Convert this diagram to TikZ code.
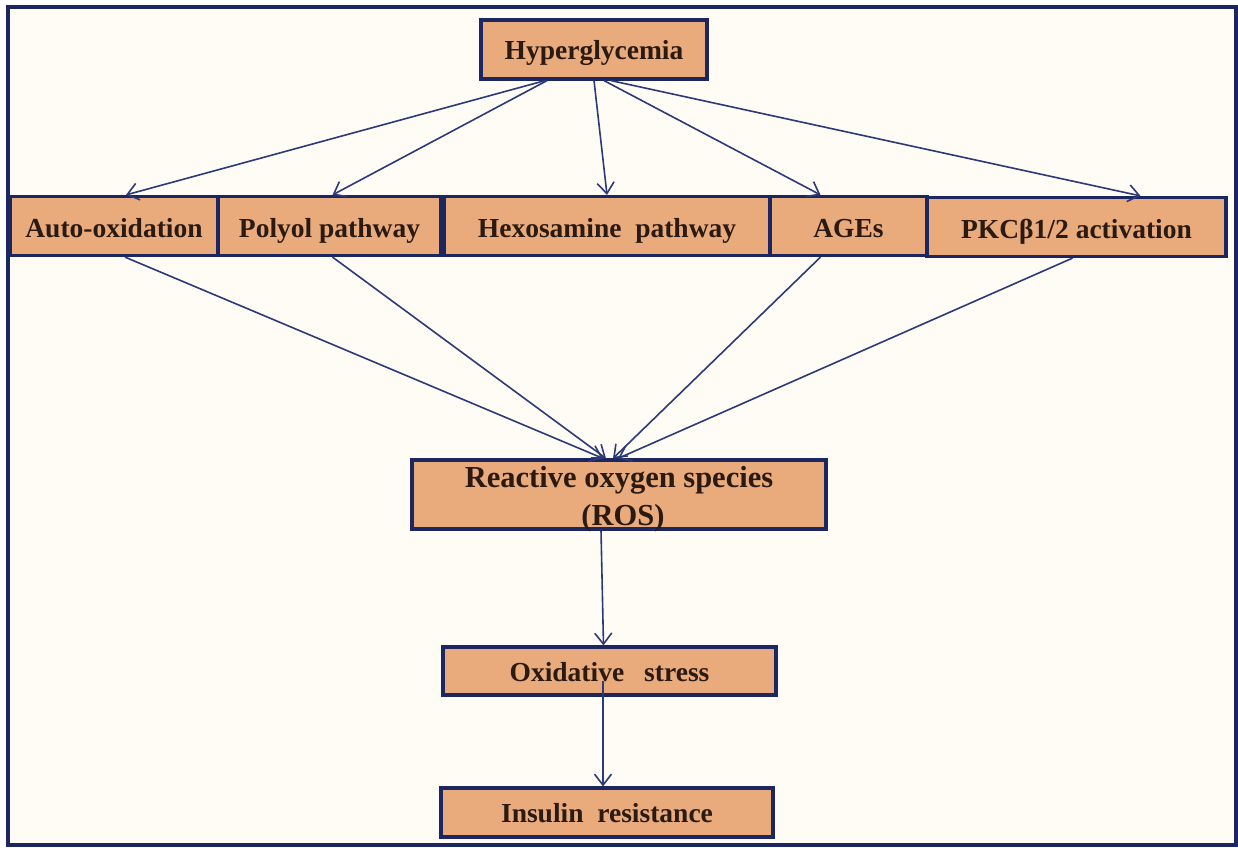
\documentclass[tikz,border=0pt]{standalone}
\usepackage{fontspec}
\setmainfont{Liberation Serif}
\usetikzlibrary{arrows.meta}
\definecolor{boxfill}{HTML}{E9AA7C}
\definecolor{navy}{HTML}{1C2660}
\definecolor{arrowc}{HTML}{2B3A78}
\definecolor{txt}{HTML}{2A1A12}
\definecolor{bg}{HTML}{FFFCF6}
\begin{document}
\begin{tikzpicture}[x=1pt,y=-1pt,
  box/.style={draw=navy,line width=3.2pt,fill=boxfill,rectangle,inner sep=0pt,
    text=txt,font=\fontsize{27.5}{31}\selectfont\bfseries,text height=22pt,text depth=2pt},
  rowbox/.style={box,text height=25pt,text depth=2pt,minimum height=59pt},
  lbl/.style={text=txt,font=\fontsize{30.5}{34}\selectfont\bfseries,inner sep=0pt,anchor=base},
  arr/.style={draw=arrowc,line width=1.6pt,-{Straight Barb[length=11pt,width=17pt,line width=1.6pt]}}]
\useasboundingbox (0,0) rectangle (1238,847);
\fill[white] (0,0) rectangle (1238,847);
\draw[navy,line width=3.2pt,fill=bg] (8,7) rectangle (1236,845);

\node[box,minimum width=226pt,minimum height=59pt] (hyp) at (594,49.5) {Hyperglycemia};
\node[rowbox,minimum width=208pt] (auto) at (114,226) {Auto-oxidation};
\node[rowbox,minimum width=223pt] (polyol) at (329.5,226) {Polyol pathway};
\node[rowbox,minimum width=326pt] (hexo) at (607,226) {Hexosamine\ \ pathway};
\node[rowbox,minimum width=157pt] (ages) at (848.5,226) {AGEs};
\node[rowbox,minimum width=299pt] (pkc) at (1076.5,227) {PKCβ1/2 activation};

\node[box,minimum width=414pt,minimum height=69pt] (ros) at (619,494.5) {};
\node[lbl] (ros1) at (619,487) {Reactive oxygen species};
\node[lbl] (ros2) at (623,525) {(ROS)};

\node[box,minimum width=333pt,minimum height=48pt] (oxs) at (609.5,671) {Oxidative\hspace{20pt}stress};
\node[box,minimum width=332pt,minimum height=49pt] (ins) at (607,812.5) {Insulin\ \ resistance};

\draw[arr] ([xshift=-49pt]hyp.south) -- ([xshift=12pt]auto.north);
\draw[arr] ([xshift=-47pt]hyp.south) -- ([xshift=3pt]polyol.north);
\draw[arr] ([xshift=0pt]hyp.south) -- ([xshift=0pt]hexo.north);
\draw[arr] ([xshift=10pt]hyp.south) -- ([xshift=-28pt]ages.north);
\draw[arr] ([xshift=17pt]hyp.south) -- ([xshift=64pt]pkc.north);

\draw[arr] ([xshift=11pt]auto.south) -- ([xshift=-16pt]ros.north);
\draw[arr] ([xshift=3pt]polyol.south) -- ([xshift=-13pt]ros.north);
\draw[arr] ([xshift=-28pt]ages.south) -- ([xshift=-6pt]ros.north);
\draw[arr] ([xshift=-4pt]pkc.south) -- ([xshift=-1pt]ros.north);

\draw[arr] ([xshift=-18pt]ros.south) -- ([xshift=-6pt]oxs.north);
\draw[arr] ([xshift=-6.5pt,yshift=16pt]oxs.south) -- ([xshift=-4pt]ins.north);
\end{tikzpicture}
\end{document}
